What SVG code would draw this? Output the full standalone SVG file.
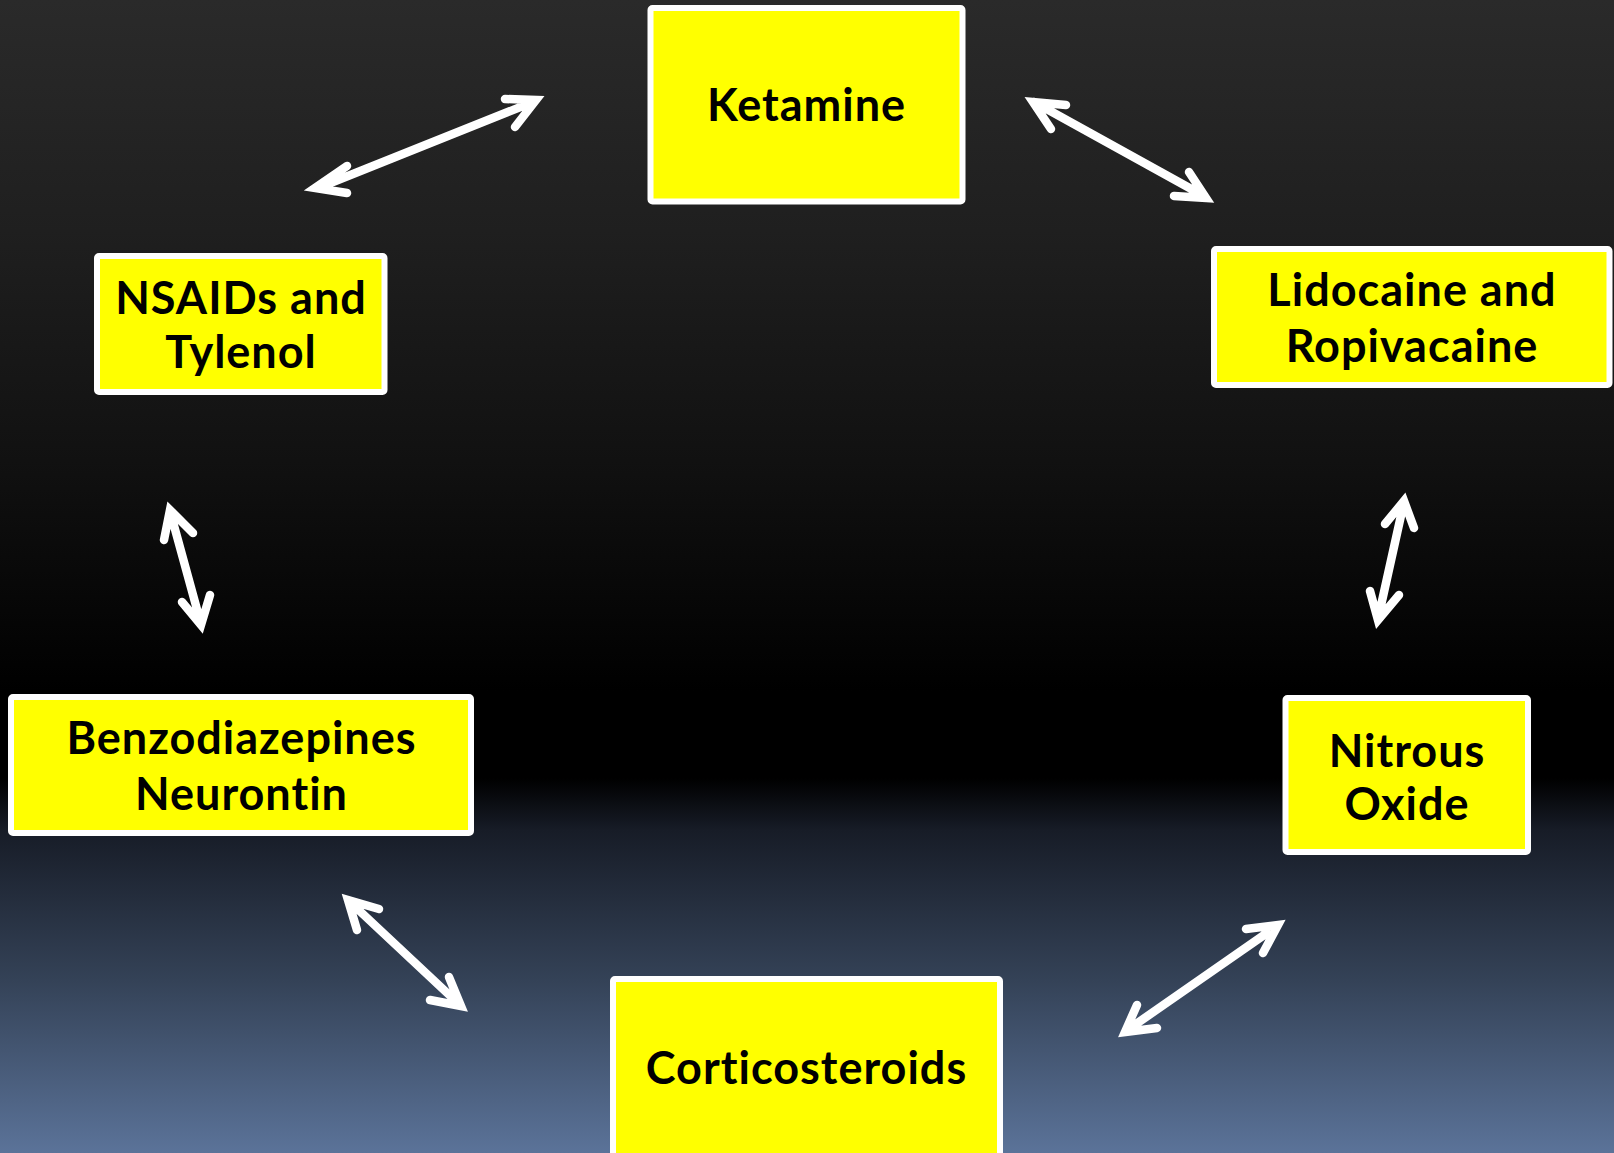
<svg xmlns="http://www.w3.org/2000/svg" width="1614" height="1153" viewBox="0 0 1614 1153">
<defs>
<linearGradient id="bg" x1="0" y1="0" x2="0" y2="1">
<stop offset="0" stop-color="#2a2a2a"/>
<stop offset="0.2" stop-color="#1f1f1f"/>
<stop offset="0.4" stop-color="#111111"/>
<stop offset="0.6" stop-color="#000000"/>
<stop offset="0.675" stop-color="#000000"/>
<stop offset="0.72" stop-color="#171c27"/>
<stop offset="0.85" stop-color="#344257"/>
<stop offset="1" stop-color="#5b7399"/>
</linearGradient>
<style>
.box{fill:#ffff00;stroke:#ffffff;stroke-width:6}
.lbl{font-family:Lato,"Liberation Sans",sans-serif;font-weight:bold;font-size:45px;letter-spacing:1px;font-variant-ligatures:none;fill:#000000;text-anchor:middle}
.arrow{fill:none;stroke:#ffffff;stroke-width:8.5;stroke-linecap:round;stroke-linejoin:miter}
</style>
</defs>
<rect x="0" y="0" width="1614" height="1153" fill="url(#bg)"/>
<g id="connectors">
<path class="arrow" d="M318,188 L533,102 M505,99 L536,100 L515,127 M347,166 L315,188 L347,193"/>
<path class="arrow" d="M1034,102 L1204,196 M1066,105 L1033,102 L1051,129 M1174,196 L1206,198 L1189,172"/>
<path class="arrow" d="M170,511 L201,624 M164,540 L170,510 L193,533 M182,602 L201,625 L210,595"/>
<path class="arrow" d="M1404,502 L1378,619 M1385,524 L1404,501 L1414,528 M1370,591 L1378,620 L1399,595"/>
<path class="arrow" d="M349,901 L460,1005 M379,909 L348,900 L357,930 M430,1000 L461,1006 L449,977"/>
<path class="arrow" d="M1277,926 L1126,1031 M1246,929 L1278,925 L1263,953 M1137,1005 L1125,1032 L1157,1028"/>
</g>
<g id="ketamine">
<rect class="box" x="650.5" y="8" width="312" height="193.5" rx="2"/>
<text class="lbl" x="806.5" y="121">Ketamine</text>
</g>
<g id="nsaids">
<rect class="box" x="97" y="256" width="287.5" height="136" rx="2"/>
<text class="lbl" x="241" y="314">NSAIDs and</text>
<text class="lbl" x="241" y="368">Tylenol</text>
</g>
<g id="lidocaine">
<rect class="box" x="1214" y="249" width="395.5" height="136" rx="2"/>
<text class="lbl" x="1412" y="306">Lidocaine and</text>
<text class="lbl" x="1412" y="362">Ropivacaine</text>
</g>
<g id="benzodiazepines">
<rect class="box" x="11" y="697" width="460" height="136" rx="2"/>
<text class="lbl" x="241.5" y="754">Benzodiazepines</text>
<text class="lbl" x="241.5" y="810">Neurontin</text>
</g>
<g id="nitrous">
<rect class="box" x="1285.5" y="698" width="242.5" height="154" rx="2"/>
<text class="lbl" x="1407" y="767">Nitrous</text>
<text class="lbl" x="1407" y="820">Oxide</text>
</g>
<g id="corticosteroids">
<rect class="box" x="613" y="979" width="387" height="180" rx="2"/>
<text class="lbl" x="806.5" y="1084">Corticosteroids</text>
</g>
</svg>
